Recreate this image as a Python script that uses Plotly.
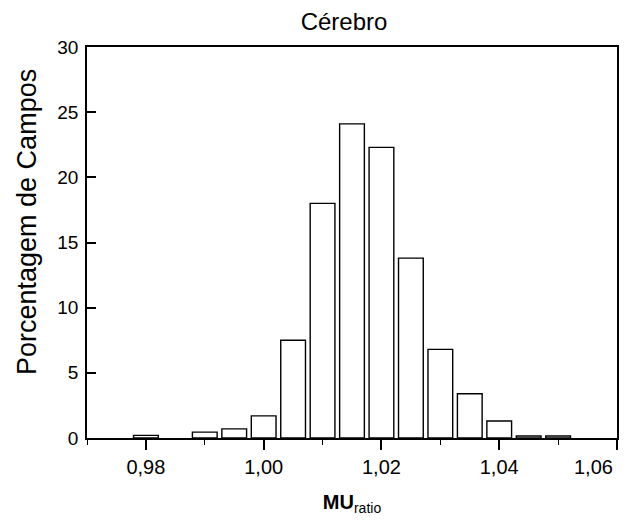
import plotly.graph_objects as go

bin_centers = [0.98, 0.99, 0.995, 1.00, 1.005, 1.01, 1.015, 1.02, 1.025, 1.03, 1.035, 1.04, 1.045, 1.05]
percentages = [0.2, 0.45, 0.7, 1.7, 7.5, 18.0, 24.1, 22.3, 13.8, 6.8, 3.4, 1.3, 0.15, 0.15]
x_tick_vals = [0.98, 1.00, 1.02, 1.04, 1.06]
x_tick_text = ["0,98", "1,00", "1,02", "1,04", "1,06"]
y_tick_vals = [0, 5, 10, 15, 20, 25, 30]

FONT = "Arial, Liberation Sans, Helvetica, sans-serif"

# the page body has an 8px default margin; size the figure to fit the window
W, H = 634, 518
ML, MR, MT, MB = 79, 25, 39, 88
PW, PH = W - ML - MR, H - MT - MB

fig = go.Figure()
fig.add_trace(go.Bar(
    x=bin_centers,
    y=percentages,
    width=0.0042,
    marker=dict(color="white", line=dict(color="black", width=1.4)),
    showlegend=False,
))

fig.update_layout(
    width=W,
    height=H,
    margin=dict(l=ML, r=MR, t=MT, b=MB),
    paper_bgcolor="white",
    plot_bgcolor="white",
    font=dict(family=FONT, color="black", size=19),
    title=dict(
        text="Cérebro",
        font=dict(family=FONT, size=24, color="black"),
        x=336 / W,
        xref="container",
        xanchor="center",
        y=1 - 13.5 / H,
        yref="container",
        yanchor="middle",
    ),
)

fig.add_annotation(
    text="Porcentagem de Campos",
    textangle=-90,
    xref="paper",
    yref="paper",
    x=(19 - ML) / PW,
    y=(PH - (222 - MT - 8)) / PH,
    xanchor="center",
    yanchor="middle",
    showarrow=False,
    font=dict(family=FONT, size=27, color="black"),
)

# last tick label sits inside the frame edge, as in the reference
fig.add_annotation(
    text=x_tick_text[-1],
    xref="x",
    yref="paper",
    x=x_tick_vals[-1],
    y=0,
    xanchor="right",
    yanchor="middle",
    xshift=-2,
    yshift=-29,
    showarrow=False,
    font=dict(family=FONT, size=20, color="black"),
)

fig.update_xaxes(
    automargin=False,
    range=[0.97, 1.06],
    tickvals=x_tick_vals,
    ticktext=x_tick_text[:-1] + [""],
    ticks="outside",
    ticklen=10,
    tickwidth=1.5,
    tickcolor="black",
    minor=dict(dtick=0.01, tick0=0.97, ticks="outside", ticklen=5, tickwidth=1.2, tickcolor="black"),
    showline=True,
    linecolor="black",
    linewidth=1.5,
    mirror=True,
    showgrid=False,
    zeroline=False,
    tickfont=dict(size=20),
    title=dict(
        text="<b>MU</b><sub>ratio</sub>",
        font=dict(family=FONT, size=20, color="black"),
        standoff=18,
    ),
)

fig.update_yaxes(
    automargin=False,
    range=[0, 30],
    tickvals=y_tick_vals,
    ticks="inside",
    ticklen=9,
    tickwidth=1.5,
    tickcolor="black",
    ticklabelstandoff=3,
    showline=True,
    linecolor="black",
    linewidth=1.5,
    mirror=True,
    showgrid=False,
    zeroline=False,
    tickfont=dict(size=19),
)

fig.write_html("out.html")
